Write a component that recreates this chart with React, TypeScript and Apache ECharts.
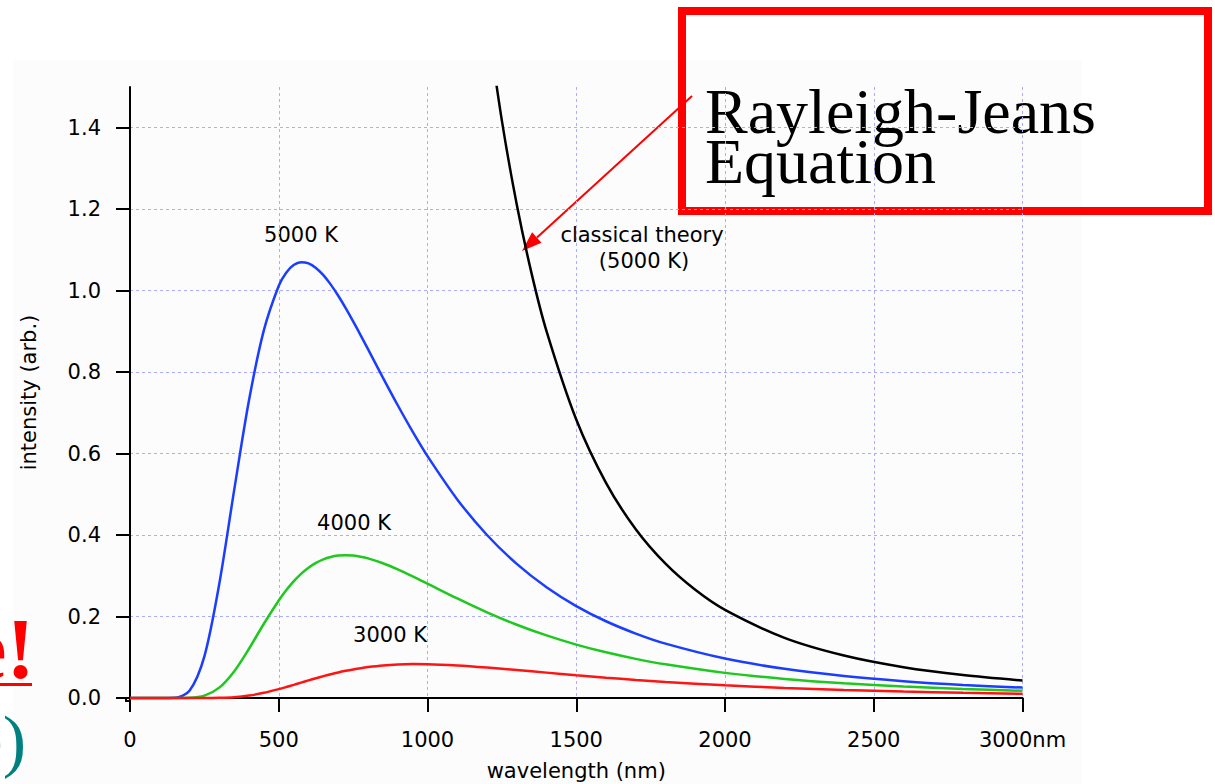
import React, { useEffect, useRef } from "react";
import * as echarts from "echarts";

// wavelength samples (nm)
const wavelengths = [0, 100, 150, 200, 250, 300, 350, 400, 450, 500, 525, 550, 575, 600, 625, 650, 675, 700, 725, 750, 775, 800, 850, 900, 950, 1000, 1100, 1200, 1300, 1400, 1500, 1600, 1700, 1800, 2000, 2200, 2400, 2600, 2800, 3000];
const intensity5000K = [0, 0, 0.0006, 0.0176, 0.1022, 0.2798, 0.5097, 0.731, 0.903, 1.0122, 1.0442, 1.0628, 1.0698, 1.067, 1.0558, 1.038, 1.0148, 0.9875, 0.9572, 0.9248, 0.891, 0.8563, 0.7867, 0.7187, 0.654, 0.5938, 0.4876, 0.4002, 0.3292, 0.2719, 0.2257, 0.1884, 0.1582, 0.1335, 0.0968, 0.0716, 0.054, 0.0414, 0.0322, 0.0255];
const intensity4000K = [0, 0, 0, 0.0005, 0.0058, 0.0254, 0.0653, 0.1209, 0.1823, 0.2395, 0.2644, 0.2862, 0.3047, 0.3198, 0.3317, 0.3405, 0.3463, 0.3496, 0.3506, 0.3496, 0.3469, 0.3427, 0.3308, 0.3157, 0.2986, 0.2806, 0.2443, 0.2102, 0.1799, 0.1536, 0.1311, 0.1121, 0.0961, 0.0827, 0.0617, 0.0468, 0.036, 0.0281, 0.0221, 0.0177];
const intensity3000K = [0, 0, 0, 0, 0, 0.0005, 0.0021, 0.006, 0.0127, 0.0218, 0.0269, 0.0323, 0.0378, 0.0433, 0.0486, 0.0536, 0.0584, 0.0628, 0.0667, 0.0702, 0.0733, 0.0759, 0.0798, 0.0822, 0.0832, 0.083, 0.08, 0.0749, 0.0687, 0.0623, 0.0559, 0.0499, 0.0444, 0.0395, 0.0311, 0.0246, 0.0196, 0.0157, 0.0127, 0.0104];
const classicalWavelengths = [1200, 1250, 1300, 1350, 1400, 1500, 1600, 1700, 1800, 1900, 2000, 2200, 2400, 2600, 2800, 3000];
const classical5000K = [1.6689, 1.4174, 1.2116, 1.0419, 0.9008, 0.6836, 0.5281, 0.4143, 0.3297, 0.2656, 0.2163, 0.1477, 0.1043, 0.0757, 0.0563, 0.0427];

const yTicks = [0, 0.2, 0.4, 0.6, 0.8, 1.0, 1.2, 1.4];
const seriesNames = ["5000 K", "4000 K", "3000 K", "classical theory (5000 K)"];

const FONT = '"DejaVu Sans", Verdana, sans-serif';
const SERIF = '"Liberation Serif", "Times New Roman", serif';

function pairs(xs: number[], ys: number[]) {
  return xs.map((x, i) => [x, ys[i]]);
}

export default function App() {
  const ref = useRef<HTMLDivElement>(null);
  useEffect(() => {
    document.body.style.margin = "0";
    if (!ref.current) return;
    const chart = echarts.init(ref.current, null, { renderer: "svg" });
    const grid = { color: "#a9acff", type: [3, 3], width: 1 };
    const lbl = (text: string, x: number, y: number) => ({
      type: "text",
      x,
      y,
      style: { text, fill: "#000", font: `21px ${FONT}`, align: "center", verticalAlign: "middle" },
    });
    const line = (name: string, data: number[][], color: string, clip: boolean, z: number) => ({
      name,
      type: "line",
      data,
      showSymbol: false,
      smooth: 0.3,
      clip,
      lineStyle: { color, width: 2.5 },
      z,
    });
    chart.setOption({
      animation: false,
      backgroundColor: "#ffffff",
      grid: { left: 130, right: 192.5, top: 87, bottom: 86, outerBoundsMode: "none" },
      xAxis: {
        type: "value",
        min: 0,
        max: 3000,
        interval: 500,
        offset: 3,
        name: "wavelength (nm)",
        nameLocation: "middle",
        nameGap: 59,
        nameTextStyle: { fontSize: 21, color: "#000", fontFamily: FONT },
        axisLine: { lineStyle: { color: "#000", width: 2 } },
        axisTick: { length: 14, lineStyle: { color: "#000", width: 2 } },
        axisLabel: {
          margin: 28,
          fontSize: 21,
          color: "#000",
          fontFamily: FONT,
          formatter: (v: number) => (v === 3000 ? "3000nm" : String(v)),
        },
        splitLine: { show: true, lineStyle: grid },
      },
      yAxis: {
        type: "value",
        min: 0,
        max: 1.5,
        offset: 4,
        name: "intensity (arb.)",
        nameLocation: "middle",
        nameGap: 87,
        nameTextStyle: { fontSize: 21, color: "#000", fontFamily: FONT },
        axisLine: { lineStyle: { color: "#000", width: 2 } },
        axisTick: { length: 14, lineStyle: { color: "#000", width: 2 }, customValues: yTicks },
        axisLabel: {
          margin: 25,
          fontSize: 21,
          color: "#000",
          fontFamily: FONT,
          customValues: yTicks,
          formatter: (v: number) => v.toFixed(1),
        },
        splitLine: { show: true, lineStyle: grid },
      },
      series: [
        line(seriesNames[0], pairs(wavelengths, intensity5000K), "#1a3dff", false, 4),
        line(seriesNames[1], pairs(wavelengths, intensity4000K), "#1ec81e", false, 4),
        line(seriesNames[2], pairs(wavelengths, intensity3000K), "#ff1414", false, 4),
        line(seriesNames[3], pairs(classicalWavelengths, classical5000K), "#000000", true, 3),
      ],
      graphic: [
        { type: "rect", z: -10, shape: { x: 13, y: 60, width: 1069, height: 724 }, style: { fill: "#fcfcfc" } },
        { type: "polyline", shape: { points: [[126, 697], [126, 701], [131, 701]] }, style: { stroke: "#000", lineWidth: 2, fill: "none" } },
        lbl("5000 K", 301, 235),
        lbl("4000 K", 354, 523),
        lbl("3000 K", 390, 635),
        lbl("classical theory", 642, 235),
        lbl("(5000 K)", 644, 261),
        { type: "rect", shape: { x: 682, y: 11, width: 526, height: 200 }, style: { fill: "none", stroke: "#ff0000", lineWidth: 8 } },
        {
          type: "text",
          x: 705,
          y: 86,
          style: { text: "Rayleigh-Jeans\nEquation", fill: "#000", font: `64px ${SERIF}`, lineHeight: 50, align: "left", verticalAlign: "top" },
        },
        { type: "line", shape: { x1: 692, y1: 96, x2: 537, y2: 237.5 }, style: { stroke: "#ff0000", lineWidth: 2 } },
        { type: "polygon", shape: { points: [[522, 251], [541.5, 242.7], [532.1, 232.3]] }, style: { fill: "#ff0000" } },
        { type: "text", x: 35, y: 649, style: { text: "e!", fill: "#ff0000", font: `bold 86px ${SERIF}`, align: "right", verticalAlign: "middle" } },
        { type: "rect", shape: { x: 0, y: 683, width: 32, height: 3 }, style: { fill: "#ff0000" } },
        { type: "text", x: 26, y: 740, style: { text: "e)", fill: "#008080", font: `70px ${SERIF}`, align: "right", verticalAlign: "middle" } },
      ],
    });
    return () => chart.dispose();
  }, []);
  return <div ref={ref} style={{ width: 1215, height: 784 }} />;
}
